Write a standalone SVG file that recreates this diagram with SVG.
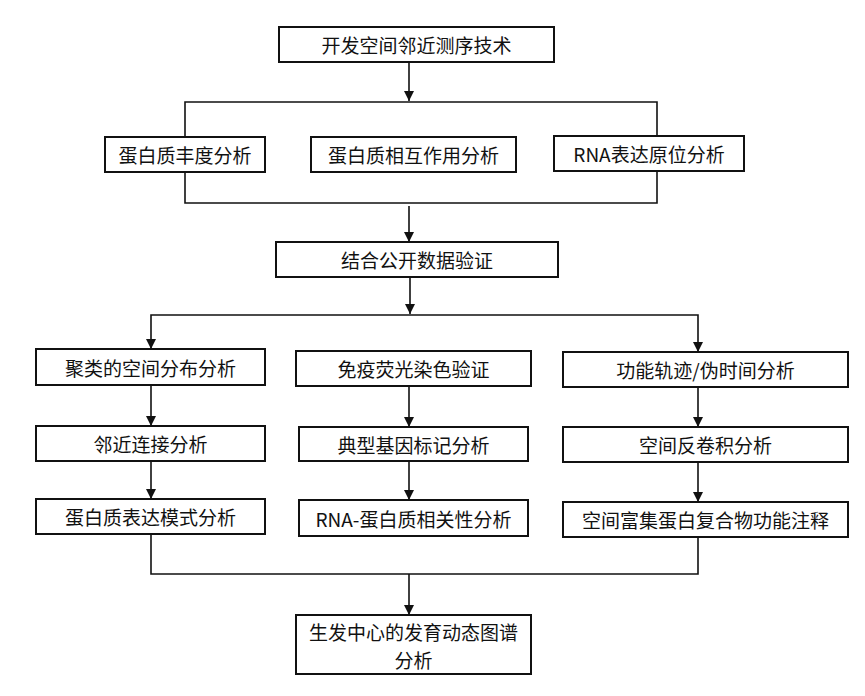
<svg xmlns="http://www.w3.org/2000/svg" width="865" height="696" viewBox="0 0 865 696">
<style>
.box{fill:#fff;stroke:#111;stroke-width:2}
.t{font-family:"Noto Sans CJK SC","Liberation Sans",sans-serif;font-size:19px;fill:#111;text-anchor:middle;dominant-baseline:central}
.c{fill:none;stroke:#111;stroke-width:1.6}
</style>
<defs>
<marker id="ah" markerUnits="userSpaceOnUse" markerWidth="10" markerHeight="11" refX="10" refY="5" orient="auto">
<path d="M0,0 L10,5 L0,10 Z" fill="#111"/>
</marker>
</defs>
<rect width="865" height="696" fill="#fff"/>
<g id="connectors">
<path class="c" d="M409,62 V101" marker-end="url(#ah)"/>
<path class="c" d="M185,137 V102 H657 V136"/>
<path class="c" d="M185,172 V203 H657 V171"/>
<path class="c" d="M409,206 V242" marker-end="url(#ah)"/>
<path class="c" d="M410,277 V314" marker-end="url(#ah)"/>
<path class="c" d="M410,315 H151 V349" marker-end="url(#ah)"/>
<path class="c" d="M410,315 H698 V352" marker-end="url(#ah)"/>
<path class="c" d="M151,385 V426" marker-end="url(#ah)"/>
<path class="c" d="M409,386 V427" marker-end="url(#ah)"/>
<path class="c" d="M698,387 V427" marker-end="url(#ah)"/>
<path class="c" d="M151,461 V499" marker-end="url(#ah)"/>
<path class="c" d="M409,461 V500" marker-end="url(#ah)"/>
<path class="c" d="M698,462 V502" marker-end="url(#ah)"/>
<path class="c" d="M151,534 V574 H698 V537"/>
<path class="c" d="M409,574 V615" marker-end="url(#ah)"/>
</g>
<g id="n1"><rect class="box" x="279" y="27" width="275" height="35"/><text class="t" x="416.5" y="44.5">开发空间邻近测序技术</text></g>
<g id="n2"><rect class="box" x="105" y="137" width="160" height="35"/><text class="t" x="185" y="154.5">蛋白质丰度分析</text></g>
<g id="n3"><rect class="box" x="311" y="137" width="205" height="35"/><text class="t" x="413.5" y="154.5">蛋白质相互作用分析</text></g>
<g id="n4"><rect class="box" x="554" y="136" width="190" height="35"/><text class="t" x="649" y="153.5">RNA表达原位分析</text></g>
<g id="n5"><rect class="box" x="276" y="242" width="282" height="35"/><text class="t" x="417" y="259.5">结合公开数据验证</text></g>
<g id="n6"><rect class="box" x="36" y="349" width="229" height="36"/><text class="t" x="150.5" y="367">聚类的空间分布分析</text></g>
<g id="n7"><rect class="box" x="296" y="351" width="235" height="35"/><text class="t" x="413.5" y="368.5">免疫荧光染色验证</text></g>
<g id="n8"><rect class="box" x="563" y="352" width="285" height="35"/><text class="t" x="705.5" y="369.5">功能轨迹/伪时间分析</text></g>
<g id="n9"><rect class="box" x="36" y="426" width="229" height="35"/><text class="t" x="150.5" y="443.5">邻近连接分析</text></g>
<g id="n10"><rect class="box" x="299" y="427" width="229" height="34"/><text class="t" x="413.5" y="444">典型基因标记分析</text></g>
<g id="n11"><rect class="box" x="563" y="427" width="285" height="35"/><text class="t" x="705.5" y="444.5">空间反卷积分析</text></g>
<g id="n12"><rect class="box" x="36" y="499" width="229" height="35"/><text class="t" x="150.5" y="516.5">蛋白质表达模式分析</text></g>
<g id="n13"><rect class="box" x="299" y="500" width="229" height="36"/><text class="t" x="413.5" y="518">RNA-蛋白质相关性分析</text></g>
<g id="n14"><rect class="box" x="563" y="502" width="285" height="35"/><text class="t" x="705.5" y="519.5">空间富集蛋白复合物功能注释</text></g>
<g id="n15"><rect class="box" x="296" y="615" width="235" height="59"/><text class="t" x="413.5" y="631">生发中心的发育动态图谱</text><text class="t" x="413.5" y="659">分析</text></g>
</svg>
